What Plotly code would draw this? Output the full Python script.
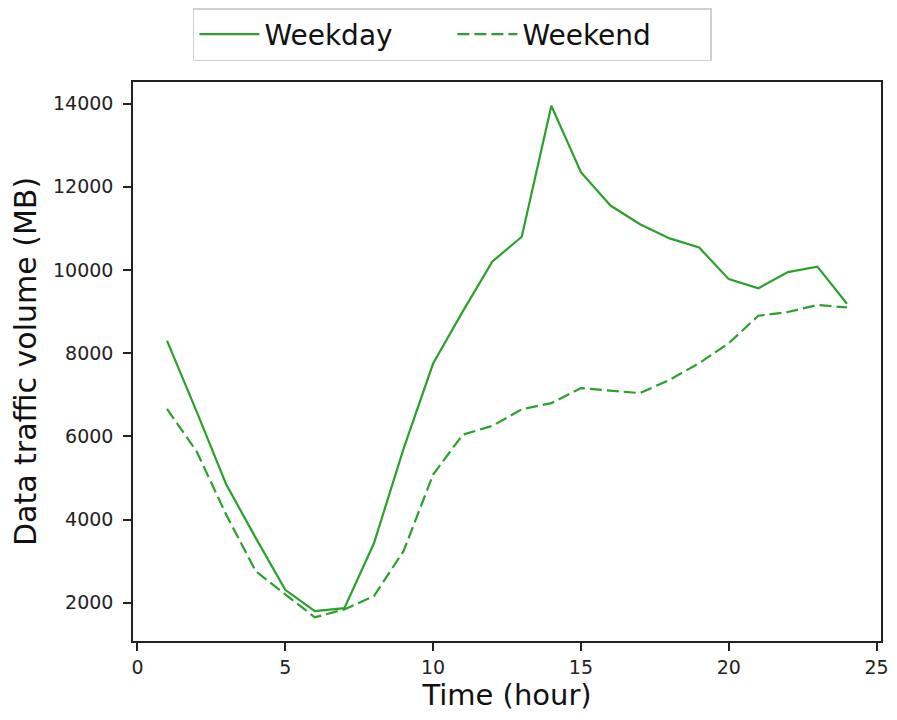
import plotly.graph_objects as go

hours = list(range(1, 25))
weekday = [8300, 6600, 4850, 3560, 2310, 1800, 1870, 3430, 5700, 7750,
           9000, 10200, 10800, 13950, 12350, 11550, 11100, 10760, 10540, 9780,
           9560, 9950, 10080, 9190]
weekend = [6660, 5640, 4120, 2760, 2200, 1650, 1840, 2160, 3240, 5080,
           6040, 6250, 6650, 6800, 7160, 7100, 7040, 7360, 7760, 8240,
           8900, 8990, 9160, 9100]

x_ticks = [0, 5, 10, 15, 20, 25]
y_ticks = [2000, 4000, 6000, 8000, 10000, 12000, 14000]

GREEN = "#2ca02c"
FONT = "DejaVu Sans"

fig = go.Figure()
fig.add_trace(go.Scatter(x=hours, y=weekday, mode="lines", name="Weekday",
                         line=dict(color=GREEN, width=2.2)))
fig.add_trace(go.Scatter(x=hours, y=weekend, mode="lines", name="Weekend",
                         line=dict(color=GREEN, width=2.2, dash="12px,5px")))

axis_common = dict(
    showgrid=False, zeroline=False, showline=True, mirror=True,
    linecolor="#222", linewidth=1.5,
    ticks="outside", ticklen=8, tickwidth=1.5, tickcolor="#222",
    tickfont=dict(family=FONT, size=19, color="#222"),
)

# The page body adds an 8px margin; the figure is sized to fit the window without overflow.
fig.update_layout(
    width=881, height=704,
    margin=dict(l=125, r=8, t=74, b=71, autoexpand=False),
    paper_bgcolor="white", plot_bgcolor="white",
    font=dict(family=FONT, color="#111"),
    xaxis=dict(range=[-0.15, 25.15], tickvals=x_ticks,
               title=dict(text="Time (hour)", font=dict(family=FONT, size=29, color="#111"), standoff=18),
               **axis_common),
    yaxis=dict(range=[1080, 14520], tickvals=y_ticks, tickformat="d",
               ticklabelstandoff=6,
               title=dict(text="Data traffic volume (MB)", font=dict(family=FONT, size=30, color="#111"), standoff=28),
               **axis_common),
    legend=dict(orientation="h", xref="paper", yref="container",
                x=0.427, xanchor="center", y=1.0, yanchor="top",
                font=dict(family=FONT, size=28, color="#111"),
                bordercolor="#d0d0d0", borderwidth=1.5, bgcolor="white",
                itemwidth=60, entrywidth=183, entrywidthmode="pixels"),
    showlegend=True,
)

fig.write_html("out.html")
